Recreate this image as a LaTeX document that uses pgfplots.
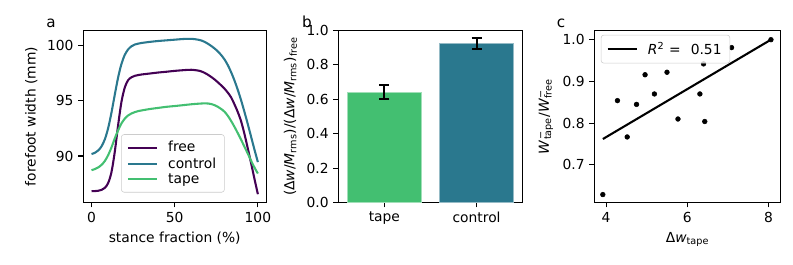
\documentclass[border=0pt]{standalone}
\usepackage{fontspec}
\setmainfont{DejaVu Sans}
\usepackage{pgfplots}
\pgfplotsset{compat=1.18}
\definecolor{cfree}{HTML}{440154}
\definecolor{ccontrol}{HTML}{2A788E}
\definecolor{ctape}{HTML}{43BF71}
\definecolor{legedge}{HTML}{CCCCCC}
\pgfplotsset{
  mpl/.style={
    scale only axis,
    axis line style={line width=0.8pt},
    tick align=outside,
    xtick pos=bottom, ytick pos=left,
    major tick length=3.5pt,
    every tick/.style={black, line width=0.8pt},
    tick label style={font=\fontsize{10}{12}\selectfont},
    label style={font=\fontsize{10}{12}\selectfont},
    /pgf/number format/assume math mode=true,
    legend cell align=left,
    legend style={draw=legedge, rounded corners=2pt, fill=white, fill opacity=0.8, text opacity=1,
      font=\fontsize{10}{12}\selectfont, inner xsep=4pt, inner ysep=3pt, row sep=-1.5pt, column sep=5pt},
    legend image code/.code={\draw[##1] (0cm,0cm) -- (0.75cm,0cm);},
  }
}
\begin{document}
\begin{tikzpicture}
\useasboundingbox (0,0) rectangle (7.93in,2.64in);
% panel a
\begin{axis}[mpl, anchor=south west, at={(0.832in,0.615in)}, width=1.83in, height=1.72in,
  xmin=-5, xmax=105, ymin=85.8, ymax=101.35, xtick={0,50,100}, ytick={90,95,100},
  xlabel={stance fraction (\%)}, ylabel={forefoot width (mm)},
  legend style={at={(0.49,0.058)}, anchor=south}]
\addplot[cfree, line width=1.5pt, smooth] coordinates {
(0,86.82) (2,86.83) (4,86.86) (6,86.94) (8,87.12) (10,87.56) (12,88.55) (14,90.4) (16,92.8) (18,94.9) (20,96.2)
(22,96.86) (24,97.12) (26,97.25) (28,97.32) (30,97.37) (35,97.46) (40,97.55) (45,97.62) (50,97.7) (55,97.76) (60,97.8)
(65,97.7) (68,97.52) (70,97.35) (72,97.15) (74,96.92) (76,96.66) (78,96.38) (80,96.08) (82,95.72) (84,95.28) (86,94.65)
(88,93.95) (90,93.1) (92,91.95) (94,90.65) (96,89.3) (98,87.9) (100,86.55)};
\addlegendentry{free}
\addplot[ccontrol, line width=1.5pt, smooth] coordinates {
(0,90.18) (2,90.29) (4,90.5) (6,90.87) (8,91.51) (10,92.52) (12,93.93) (14,95.56) (16,97.11) (18,98.33) (20,99.15)
(22,99.64) (24,99.92) (26,100.08) (28,100.16) (30,100.22) (35,100.32) (40,100.4) (45,100.46) (50,100.52) (55,100.58)
(60,100.6) (64,100.52) (66,100.45) (68,100.32) (70,100.15) (72,99.95) (74,99.72) (76,99.45) (78,99.12) (80,98.72)
(82,98.2) (84,97.55) (86,96.8) (88,95.95) (90,95.0) (92,93.95) (94,92.85) (96,91.7) (98,90.55) (100,89.45)};
\addlegendentry{control}
\addplot[ctape, line width=1.5pt, smooth] coordinates {
(0,88.72) (2,88.82) (4,88.97) (6,89.2) (8,89.55) (10,90.08) (12,90.78) (14,91.6) (16,92.33) (18,92.95) (20,93.38)
(22,93.67) (24,93.85) (26,93.97) (28,94.06) (30,94.12) (35,94.25) (40,94.35) (45,94.45) (50,94.52) (55,94.6) (60,94.68)
(65,94.74) (68,94.76) (70,94.75) (72,94.7) (74,94.6) (76,94.45) (78,94.25) (80,94.0) (82,93.62) (84,93.15) (86,92.62)
(88,92.05) (90,91.45) (92,90.82) (94,90.2) (96,89.55) (98,88.95) (100,88.42)};
\addlegendentry{tape}
\end{axis}
% panel b
\begin{axis}[mpl, anchor=south west, at={(3.383in,0.615in)}, width=1.844in, height=1.72in,
  xmin=-0.5, xmax=1.5, ymin=0, ymax=1, xtick={0,1}, xticklabels={tape,control},
  ytick={0,0.2,0.4,0.6,0.8,1.0},
  yticklabel style={/pgf/number format/.cd, fixed, fixed zerofill, precision=1},
  ylabel={(Δ\textit{w}/\textit{M}\textsubscript{rms})/(Δ\textit{w}/\textit{M}\textsubscript{rms})\textsubscript{free}}]
\addplot[ybar, bar width=0.8, bar shift=0pt, fill=ctape, draw=ctape!50!white, line width=0.6pt,
  error bars/.cd, y dir=both, y explicit,
  error bar style={line width=1.5pt, black},
  error mark options={rotate=90, black, mark size=3.6pt, line width=1.5pt}]
  coordinates {(0,0.642) +- (0,0.039)};
\addplot[ybar, bar width=0.8, bar shift=0pt, fill=ccontrol, draw=ccontrol!50!white, line width=0.6pt,
  error bars/.cd, y dir=both, y explicit,
  error bar style={line width=1.5pt, black},
  error mark options={rotate=90, black, mark size=3.6pt, line width=1.5pt}]
  coordinates {(1,0.924) +- (0,0.034)};
\end{axis}
% panel c
\begin{axis}[mpl, anchor=south west, at={(5.943in,0.615in)}, width=1.864in, height=1.72in,
  xmin=3.71, xmax=8.30, ymin=0.61, ymax=1.022, xtick={4,6,8}, ytick={0.7,0.8,0.9,1.0},
  yticklabel style={/pgf/number format/.cd, fixed, fixed zerofill, precision=1},
  xlabel={Δ\textit{w}\textsubscript{tape}},
  ylabel={\textit{W}\rlap{\textsuperscript{−}}\textsubscript{tape}/\textit{W}\rlap{\textsuperscript{−}}\textsubscript{free}},
  legend style={at={(0.035,0.975)}, anchor=north west}]
\addplot[black, line width=1.5pt] coordinates {(3.92,0.762) (8.06,1.0)};
\addlegendentry{\textit{R}\textsuperscript{2}\hspace{3.5pt}=\hspace{4pt} 0.51\hspace{2pt}}
\addplot[only marks, mark=*, mark size=1.7pt, black, forget plot] coordinates {
(3.92,0.629) (4.28,0.854) (4.52,0.767) (4.75,0.845) (4.96,0.916) (5.19,0.870) (5.50,0.922)
(5.77,0.810) (6.31,0.870) (6.40,0.942) (6.43,0.804) (7.09,0.981) (8.06,1.0)};
\end{axis}
\node[anchor=base, font=\fontsize{11}{13}\selectfont] at (0.51in,2.365in) {a};
\node[anchor=base, font=\fontsize{11}{13}\selectfont] at (3.07in,2.365in) {b};
\node[anchor=base, font=\fontsize{11}{13}\selectfont] at (5.61in,2.365in) {c};
\end{tikzpicture}
\end{document}
